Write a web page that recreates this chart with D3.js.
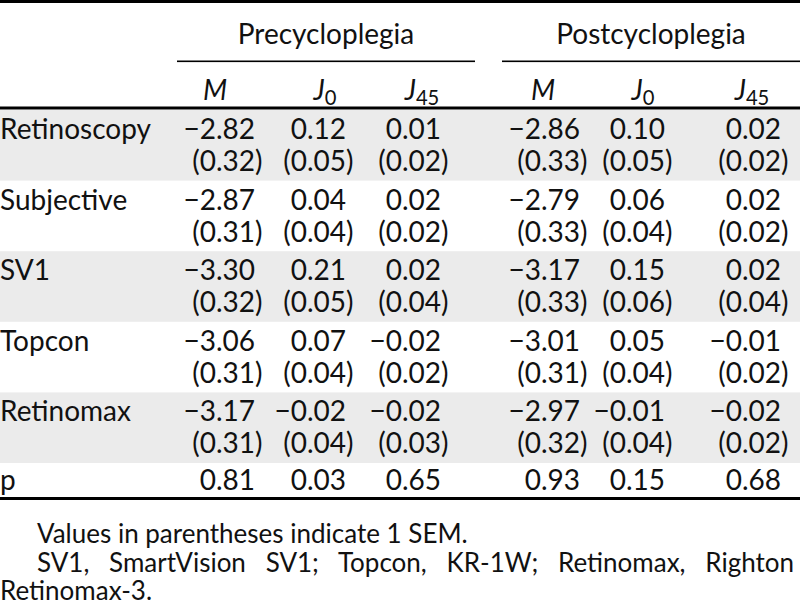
<!DOCTYPE html>
<html><head><meta charset="utf-8">
<script src="https://cdn.jsdelivr.net/npm/d3@7"></script>
<style>html,body{margin:0;padding:0;background:#fff;}svg{display:block;}</style>
</head><body>
<svg id="t" width="800" height="608"></svg>
<script>
// ---- data ----
const groups = ["Precycloplegia", "Postcycloplegia"];
const subCols = [{base:"M", sub:""}, {base:"J", sub:"0"}, {base:"J", sub:"45"}];
const rowLabels = ["Retinoscopy", "Subjective", "SV1", "Topcon", "Retinomax"];
const preM    = [-2.82, -2.87, -3.30, -3.06, -3.17];
const preMse  = [0.32, 0.31, 0.32, 0.31, 0.31];
const preJ0   = [0.12, 0.04, 0.21, 0.07, -0.02];
const preJ0se = [0.05, 0.04, 0.05, 0.04, 0.04];
const preJ45  = [0.01, 0.02, 0.02, -0.02, -0.02];
const preJ45se= [0.02, 0.02, 0.04, 0.02, 0.03];
const postM    = [-2.86, -2.79, -3.17, -3.01, -2.97];
const postMse  = [0.33, 0.33, 0.33, 0.31, 0.32];
const postJ0   = [0.10, 0.06, 0.15, 0.05, -0.01];
const postJ0se = [0.05, 0.04, 0.06, 0.04, 0.04];
const postJ45  = [0.02, 0.02, 0.02, -0.01, -0.02];
const postJ45se= [0.02, 0.02, 0.04, 0.02, 0.02];
const pLabel = "p";
const pValues = [0.81, 0.03, 0.65, 0.93, 0.15, 0.68];
const footnotes = [
  "Values in parentheses indicate 1 SEM.",
  "SV1, SmartVision SV1; Topcon, KR-1W; Retinomax, Righton",
  "Retinomax-3."
];

// ---- layout ----
const valueCols = [preM, preJ0, preJ45, postM, postJ0, postJ45];
const seCols = [preMse, preJ0se, preJ45se, postMse, postJ0se, postJ45se];
const colRight = [255, 346, 441, 580, 665, 781]; // decimal (digit right) edges
const subCenter = [215, 325, 422, 543, 643, 752];
const groupSpan = [[177, 475], [502, 800]];
const FONT = "Lato, 'Open Sans', sans-serif";
const FS = 28;
const fmt = d3.format(".2f");

const svg = d3.select("#t").style("font-family", FONT).style("font-size", FS + "px").attr("fill", "#111");

const y = d3.scaleBand().domain(rowLabels).range([110, 463]).paddingInner(0).paddingOuter(0);

// gray bands
svg.selectAll("rect.band").data(rowLabels.filter((d, i) => i % 2 === 0)).join("rect")
  .attr("x", 0).attr("width", 800)
  .attr("y", d => y(d)).attr("height", y.bandwidth())
  .attr("fill", "#ebebeb");

// rules
svg.append("rect").attr("x", 0).attr("y", 0).attr("width", 800).attr("height", 3).attr("fill", "#000");
svg.append("rect").attr("x", 0).attr("y", 106.5).attr("width", 800).attr("height", 3).attr("fill", "#000");
svg.append("rect").attr("x", 0).attr("y", 497).attr("width", 800).attr("height", 3).attr("fill", "#000");
groupSpan.forEach(s => svg.append("rect").attr("x", s[0]).attr("y", 60.5).attr("width", s[1] - s[0]).attr("height", 1.6).attr("fill", "#000"));

// group headers
svg.selectAll("text.grp").data(groups).join("text")
  .attr("x", (d, i) => (groupSpan[i][0] + groupSpan[i][1]) / 2)
  .attr("y", 44).attr("text-anchor", "middle").text(d => d);

// sub headers
const subs = d3.range(6).map(i => subCols[i % 3]);
const st = svg.selectAll("text.sub").data(subs).join("text")
  .attr("x", (d, i) => subCenter[i]).attr("y", 100).attr("text-anchor", "middle");
st.append("tspan").attr("font-style", "italic").text(d => d.base);
st.filter(d => d.sub).append("tspan").attr("font-size", (FS * 0.72) + "px").attr("dy", 5).text(d => d.sub);

// row labels
svg.selectAll("text.lab").data(rowLabels).join("text")
  .attr("x", 0).attr("y", d => y(d) + 29).text(d => d);

// values
valueCols.forEach((col, c) => {
  svg.selectAll(null).data(col).join("text")
    .attr("x", colRight[c]).attr("y", (d, i) => y(rowLabels[i]) + 29)
    .attr("text-anchor", "end").text(d => fmt(d));
  svg.selectAll(null).data(seCols[c]).join("text")
    .attr("x", colRight[c]).attr("y", (d, i) => y(rowLabels[i]) + 61)
    .attr("text-anchor", "end").text(d => "(" + fmt(d));
  svg.selectAll(null).data(seCols[c]).join("text")
    .attr("x", colRight[c]).attr("y", (d, i) => y(rowLabels[i]) + 61)
    .attr("text-anchor", "start").text(")");
});

// p row
svg.append("text").attr("x", 0).attr("y", 490).text(pLabel);
svg.selectAll("text.p").data(pValues).join("text")
  .attr("x", (d, i) => colRight[i]).attr("y", 490).attr("text-anchor", "end").text(d => fmt(d));

// footnotes
const fy = [543, 572, 600];
const fx = [37, 37, 0];
footnotes.forEach((t, i) => {
  const el = svg.append("text").attr("x", fx[i]).attr("y", fy[i]).style("font-size", "26px").text(t);
  if (i === 1) {
    const w = el.node().getComputedTextLength();
    const gaps = t.split(" ").length - 1;
    const target = 794 - fx[i];
    el.attr("word-spacing", ((target - w) / gaps) + "px");
  }
});
</script>
</body></html>
